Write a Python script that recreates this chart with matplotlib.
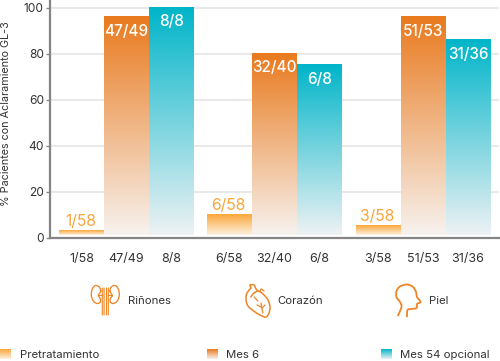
import numpy as np
import matplotlib
matplotlib.use("Agg")
import matplotlib.pyplot as plt
from matplotlib.colors import LinearSegmentedColormap
from matplotlib.path import Path
from matplotlib.patches import PathPatch

plt.rcParams['font.family'] = ['Inter', 'DejaVu Sans']

W, H = 500, 361
groups = ['Riñones', 'Corazón', 'Piel']
series = ['Pretratamiento', 'Mes 6', 'Mes 54 opcional']
pre_vals = [2.8, 10, 5]
m6_vals = [96, 80, 96]
m54_vals = [100, 75, 86]
pre_labels = ['1/58', '6/58', '3/58']
m6_labels = ['47/49', '32/40', '51/53']
m54_labels = ['8/8', '6/8', '31/36']
yticks = [0, 20, 40, 60, 80, 100]
ylabel = '% Pacientes con Aclaramiento GL-3'

col_pre = ('#fba73a', '#fdf1e0')
col_m6 = ('#e97a1e', '#f7f2ee')
col_m54 = ('#00b5c9', '#eef2f4')
TXT = '#333333'
ORANGE = '#ee8526'


def cmap(c):
    return LinearSegmentedColormap.from_list('g', [c[1], c[0]])


fig = plt.figure(figsize=(W / 100, H / 100), dpi=100)
ax = fig.add_axes([49.5 / W, 1 - 237.5 / H, (499 - 49.5) / W, 237.5 / H])
ax.set_yticks(yticks)
ax.tick_params(axis='y', length=3, width=1, color='#888888', labelsize=8.6,
               labelcolor=TXT, pad=1)
ax.grid(axis='y', color='#e9e9e9', lw=1.5, zorder=0)
ax.set_axisbelow(True)
for s in ['top', 'right']:
    ax.spines[s].set_visible(False)
for s in ['left', 'bottom']:
    ax.spines[s].set_color('#858585')
    ax.spines[s].set_linewidth(1.6)

bar_w = 45.0
group_x = [104.0, 252.0, 400.5]
offs = [-1, 0, 1]
base = 1.0
all_series = [(pre_vals, pre_labels, col_pre), (m6_vals, m6_labels, col_m6),
              (m54_vals, m54_labels, col_m54)]
grad = np.linspace(1, 0, 256).reshape(-1, 1)
xt, xl = [], []
for g, gx in enumerate(group_x):
    for k, (vals, labs, col) in enumerate(all_series):
        c = gx + offs[k] * bar_w + bar_w / 2
        v = vals[g]
        ax.bar(c, v - base, bar_w, bottom=base, color='none', lw=0, zorder=2)
        ax.imshow(grad, cmap=cmap(col), extent=[c - bar_w / 2, c + bar_w / 2, base, v],
                  aspect='auto', zorder=2, vmin=0, vmax=1)
        xt.append(c)
        xl.append(labs[g])
        if k == 0:
            ax.text(c - 0.8, v + 2.0, labs[g], color='#f9a63a', fontsize=11.3, ha='center',
                    va='baseline', zorder=3)
        else:
            ax.text(c, v - 8.2, labs[g], color='white', fontsize=11, ha='center', va='baseline',
                    fontweight='medium', zorder=3)
ax.set_xlim(49.5, 499)
ax.set_ylim(0, 237.5 / 2.3)
ax.set_xticks(xt)
ax.set_xticklabels(xl)
ax.tick_params(axis='x', length=0, labelsize=9, labelcolor=TXT, pad=11.5)
fig.text(6.5 / W, 1 - 114 / H, ylabel, rotation=90, fontsize=7.8, color=TXT, ha='center', va='center')

# Pixel-space overlay for the icons and legend swatches
ov = fig.add_axes([0, 0, 1, 1], facecolor='none')
ov.set_xlim(0, W)
ov.set_ylim(H, 0)
ov.axis('off')


def smooth(points, lw=0.95):
    """Catmull-Rom spline through the outline points."""
    p = [np.array(q, float) for q in points]
    p = [p[0]] + p + [p[-1]]
    verts, codes = [tuple(p[1])], [Path.MOVETO]
    for i in range(1, len(p) - 2):
        c1 = p[i] + (p[i + 1] - p[i - 1]) / 6
        c2 = p[i + 1] - (p[i + 2] - p[i]) / 6
        verts += [tuple(c1), tuple(c2), tuple(p[i + 1])]
        codes += [Path.CURVE4] * 3
    ov.add_patch(PathPatch(Path(verts, codes), fc='none', ec=ORANGE, lw=lw, capstyle='round'))


# kidneys
cx = 105.3
for sgn in (-1, 1):
    f = lambda d: cx + sgn * d
    smooth([(f(4.5), 291), (f(6), 287), (f(10), 285.5), (f(13), 289), (f(14), 295), (f(12), 301),
            (f(8), 303.5), (f(5), 302), (f(5.2), 298.5), (f(7), 295.5), (f(5.5), 293), (f(4.5), 291)])
    smooth([(f(1.2), 288), (f(1.2), 315)], lw=0.8)
    smooth([(f(3), 288), (f(3), 315)], lw=0.8)
    smooth([(f(3), 295.5), (f(6.5), 295.5)], lw=0.8)

# heart
smooth([(251, 288), (247, 293), (246, 299), (248, 306), (255, 312), (262, 316), (266, 317),
        (269, 313), (270, 307), (268, 300), (263, 294), (258, 291), (253, 294), (251, 297)], lw=1.1)
smooth([(251, 288), (250, 285), (254, 285), (256, 289), (258, 291)], lw=1.1)
smooth([(260, 292), (261, 289), (264, 291)], lw=0.9)
smooth([(261, 303), (262, 309), (263, 313)], lw=0.9)
smooth([(257, 305), (261, 307)], lw=0.9)
smooth([(265, 305), (262, 308)], lw=0.9)
smooth([(254, 297), (258, 301)], lw=0.9)

# head
smooth([(398, 315.5), (401.5, 307), (400, 302), (396.5, 297), (396.5, 291), (400, 286.5), (407, 284.5),
        (413, 287), (416, 292), (417, 297), (420.5, 302), (417, 304), (416.5, 308), (411, 309),
        (407.5, 310), (407, 316.5)], lw=1.3)

# swatches
for x0, col in zip([0, 207, 381], [col_pre, col_m6, col_m54]):
    ov.imshow(grad, cmap=cmap(col), extent=[x0, x0 + 11, 359, 349], aspect='auto', vmin=0, vmax=1,
              origin='upper')
ov.set_xlim(0, W)
ov.set_ylim(H, 0)

for x, s in zip([20, 226, 400], series):
    ov.text(x, 354.5, s, fontsize=8.2, color=TXT, va='center', ha='left')
for x, s in zip([128, 277, 428.5], groups):
    ov.text(x, 301, s, fontsize=8.2, color=TXT, va='center', ha='left')

fig.savefig('out.png', dpi=100)
